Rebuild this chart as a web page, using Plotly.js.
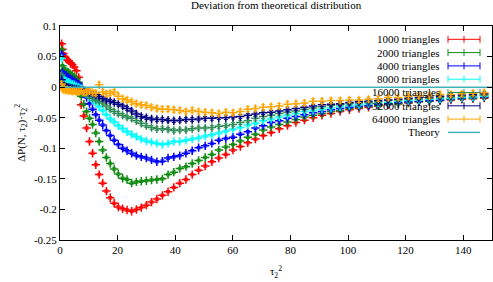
<!DOCTYPE html>
<html><head><meta charset="utf-8">
<script src="https://cdn.plot.ly/plotly-3.0.1.min.js"></script>
<style>html,body{margin:0;padding:0;background:#fff;}#chart{width:493px;height:282px;}</style>
</head><body><div id="chart"></div>
<script>
const xVals = [0.58,0.86,1.18,1.56,2.00,2.48,3.02,3.61,4.25,4.95,5.70,6.50,7.36,8.27,9.23,10.24,11.31,12.43,13.60,14.82,16.10,17.43,18.81,20.25,21.74,23.28,24.88,26.52,28.22,29.98,31.78,33.64,35.55,37.52,39.53,41.60,43.73,45.90,48.13,50.41,52.74,55.13,57.57,60.06,62.61,65.21,67.86,70.56,73.32,76.13,78.99,81.90,84.87,87.89,90.96,94.09,97.27,100.50,103.79,107.12,110.51,113.96,117.45,121.00,124.60,128.26,131.96,135.72,139.54,143.40,147.32];

const y1000 = [0.071,0.062,0.055,0.050,0.047,0.045,0.043,0.040,0.037,0.033,0.027,0.016,-0.029,-0.047,-0.067,-0.089,-0.108,-0.127,-0.143,-0.157,-0.170,-0.181,-0.190,-0.196,-0.199,-0.201,-0.203,-0.200,-0.197,-0.193,-0.188,-0.183,-0.177,-0.171,-0.164,-0.157,-0.151,-0.143,-0.136,-0.129,-0.122,-0.116,-0.110,-0.103,-0.097,-0.091,-0.085,-0.079,-0.074,-0.068,-0.063,-0.058,-0.054,-0.050,-0.046,-0.043,-0.040,-0.037,-0.035,-0.033,-0.030,-0.029,-0.027,-0.026,-0.024,-0.023,-0.022,-0.021,-0.020,-0.019,-0.018];
const y2000 = [0.061,0.035,0.029,0.027,0.026,0.025,0.024,0.022,0.020,0.017,0.013,0.008,-0.015,-0.028,-0.040,-0.051,-0.061,-0.075,-0.089,-0.103,-0.115,-0.125,-0.134,-0.142,-0.149,-0.151,-0.157,-0.155,-0.154,-0.153,-0.152,-0.151,-0.150,-0.143,-0.139,-0.133,-0.130,-0.125,-0.120,-0.115,-0.110,-0.103,-0.098,-0.094,-0.088,-0.082,-0.077,-0.070,-0.065,-0.061,-0.057,-0.053,-0.049,-0.046,-0.043,-0.040,-0.038,-0.035,-0.033,-0.031,-0.030,-0.028,-0.027,-0.025,-0.024,-0.023,-0.022,-0.020,-0.019,-0.018,-0.017];
const y4000 = [0.054,0.025,0.021,0.019,0.018,0.017,0.016,0.014,0.012,0.010,0.008,0.005,0.000,-0.008,-0.017,-0.027,-0.036,-0.045,-0.054,-0.062,-0.071,-0.079,-0.087,-0.094,-0.100,-0.104,-0.108,-0.112,-0.114,-0.116,-0.119,-0.122,-0.121,-0.116,-0.114,-0.112,-0.108,-0.104,-0.099,-0.096,-0.092,-0.087,-0.084,-0.082,-0.077,-0.073,-0.067,-0.063,-0.058,-0.055,-0.051,-0.048,-0.045,-0.042,-0.040,-0.037,-0.035,-0.033,-0.031,-0.030,-0.028,-0.027,-0.025,-0.024,-0.023,-0.022,-0.021,-0.019,-0.018,-0.017,-0.016];
const y8000 = [0.047,0.015,0.012,0.011,0.010,0.009,0.008,0.007,0.005,0.004,0.002,0.000,-0.002,-0.006,-0.011,-0.016,-0.021,-0.026,-0.032,-0.038,-0.045,-0.052,-0.057,-0.063,-0.068,-0.073,-0.077,-0.081,-0.085,-0.088,-0.090,-0.092,-0.094,-0.092,-0.089,-0.089,-0.087,-0.085,-0.083,-0.080,-0.078,-0.075,-0.072,-0.069,-0.066,-0.062,-0.059,-0.055,-0.052,-0.049,-0.046,-0.043,-0.040,-0.038,-0.036,-0.034,-0.032,-0.030,-0.029,-0.027,-0.026,-0.025,-0.023,-0.022,-0.021,-0.020,-0.019,-0.018,-0.017,-0.016,-0.015];
const y16000 = [0.020,0.006,0.003,0.002,0.001,0.000,-0.001,-0.001,-0.002,-0.003,-0.004,-0.005,-0.007,-0.009,-0.012,-0.015,-0.018,-0.021,-0.023,-0.026,-0.031,-0.036,-0.040,-0.043,-0.046,-0.049,-0.051,-0.055,-0.059,-0.063,-0.066,-0.068,-0.068,-0.069,-0.071,-0.070,-0.070,-0.068,-0.067,-0.067,-0.066,-0.064,-0.063,-0.061,-0.058,-0.055,-0.051,-0.048,-0.046,-0.043,-0.041,-0.039,-0.036,-0.034,-0.032,-0.030,-0.029,-0.027,-0.026,-0.025,-0.024,-0.022,-0.021,-0.020,-0.019,-0.018,-0.017,-0.016,-0.015,-0.014,-0.013];
const y32000 = [0.012,0.004,0.002,0.001,0.000,-0.001,-0.001,-0.002,-0.002,-0.003,-0.003,-0.004,-0.005,-0.006,-0.007,-0.009,-0.011,-0.013,-0.015,-0.018,-0.021,-0.023,-0.025,-0.028,-0.031,-0.035,-0.039,-0.044,-0.048,-0.050,-0.052,-0.053,-0.053,-0.054,-0.055,-0.054,-0.053,-0.053,-0.052,-0.051,-0.051,-0.050,-0.050,-0.049,-0.048,-0.046,-0.044,-0.042,-0.041,-0.039,-0.037,-0.035,-0.033,-0.031,-0.029,-0.028,-0.027,-0.025,-0.024,-0.023,-0.022,-0.021,-0.020,-0.018,-0.017,-0.016,-0.015,-0.014,-0.013,-0.012,-0.011];
const y64000 = [0.005,-0.002,-0.004,-0.003,-0.005,-0.004,-0.006,-0.005,-0.007,-0.006,-0.008,-0.007,-0.006,-0.009,-0.008,-0.006,-0.009,-0.010,0.004,-0.008,-0.011,-0.010,-0.008,-0.015,-0.019,-0.021,-0.024,-0.027,-0.029,-0.030,-0.033,-0.035,-0.036,-0.036,-0.037,-0.038,-0.040,-0.038,-0.040,-0.041,-0.042,-0.043,-0.041,-0.042,-0.040,-0.036,-0.035,-0.033,-0.032,-0.031,-0.028,-0.027,-0.026,-0.023,-0.023,-0.022,-0.022,-0.021,-0.021,-0.020,-0.019,-0.017,-0.017,-0.015,-0.014,-0.014,-0.012,-0.012,-0.011,-0.010,-0.009];

const seriesNames = ["1000 triangles","2000 triangles","4000 triangles","8000 triangles","16000 triangles","32000 triangles","64000 triangles"];
const seriesErrors = [0.002,0.002,0.002,0.002,0.003,0.003,0.004];
const theoryX = [0,150];
const theoryY = [0,0];
const theoryName = "Theory";

const yTickVals = [0.1,0.05,0,-0.05,-0.1,-0.15,-0.2,-0.25];
const yTickText = ["0.1","0.05","0","-0.05","-0.1","-0.15","-0.2","-0.25"];
const xTickVals = [0,20,40,60,80,100,120,140];
const xTickText = ["0","20","40","60","80","100","120","140"];

const seriesY = [y1000,y2000,y4000,y8000,y16000,y32000,y64000];
const colors = ["#ff0000","#108a10","#0000ff","#00ffff","#2e8b57","#000080","#ffa500"];
const theoryColor = "#3fb3b9";
const FONT = "'Liberation Serif'";

const traces = seriesY.map((ys,i)=>({
  type:'scatter', mode:'markers', x:xVals, y:ys, name:seriesNames[i], showlegend:false,
  marker:{symbol:'cross-thin', size:6, color:colors[i], line:{color:colors[i], width:1.5}},
  error_y:{type:'constant', value:seriesErrors[i], color:colors[i], thickness:1, width:2}
}));
traces.push({type:'scatter', mode:'lines', x:theoryX, y:theoryY, name:theoryName, showlegend:false,
  line:{color:theoryColor, width:1.5}});

const L = 60, W = 432, T = 26, H = 214;
const px = v => (v-L)/W, py = v => (T+H-v)/H;
const rowY0 = 39.3, rowStep = 13.3;
const annotations = [], shapes = [];
const legendNames = seriesNames.concat([theoryName]);
const legendColors = colors.concat([theoryColor]);
legendNames.forEach((nm,i)=>{
  const yy = rowY0 + i*rowStep;
  annotations.push({xref:'paper', yref:'paper', x:px(442), y:py(yy), xanchor:'right', yanchor:'middle',
    text:nm, showarrow:false, font:{family:FONT, size:11, color:'#000'}});
  shapes.push({type:'line', xref:'paper', yref:'paper', x0:px(448), x1:px(480), y0:py(yy), y1:py(yy),
    line:{color:legendColors[i], width: i===7?1.5:1}});
  if(i<7){
    [448,464,480].forEach(xx=>{
      shapes.push({type:'line', xref:'paper', yref:'paper', x0:px(xx), x1:px(xx), y0:py(yy-3.5), y1:py(yy+3.5),
        line:{color:legendColors[i], width:1}});
    });
  }
});

const layout = {
  width:493, height:282,
  margin:{l:60, r:1, t:26, b:42, pad:0},
  paper_bgcolor:'#fff', plot_bgcolor:'#fff',
  font:{family:FONT, size:11, color:'#000'},
  title:{text:'Deviation from theoretical distribution', x:0.56, xanchor:'center', y:0.995, yanchor:'top', font:{family:FONT, size:11, color:'#000'}},
  xaxis:{range:[0,150], tickvals:xTickVals, ticktext:xTickText, ticks:'inside', ticklen:5, tickcolor:'#000', tickwidth:1,
    showline:true, linecolor:'#000', linewidth:1, mirror:'ticks', showgrid:false, zeroline:false,
    tickfont:{family:FONT, size:11, color:'#000'},
    title:{text:'τ<sub>2</sub><sup>2</sup>', standoff:12, font:{family:FONT, size:11, color:'#000'}}},
  yaxis:{range:[-0.25,0.1], tickvals:yTickVals, ticktext:yTickText, ticks:'inside', ticklen:5, tickcolor:'#000', tickwidth:1,
    showline:true, linecolor:'#000', linewidth:1, mirror:'ticks', showgrid:false, zeroline:false,
    tickfont:{family:FONT, size:11, color:'#000'},
    title:{text:'ΔP(N, τ<sub>2</sub>)·τ<sub>2</sub><sup>2</sup>', standoff:6, font:{family:FONT, size:11, color:'#000'}}},
  annotations:annotations, shapes:shapes, showlegend:false
};
Plotly.newPlot('chart', traces, layout, {displayModeBar:false, staticPlot:true});
</script></body></html>
